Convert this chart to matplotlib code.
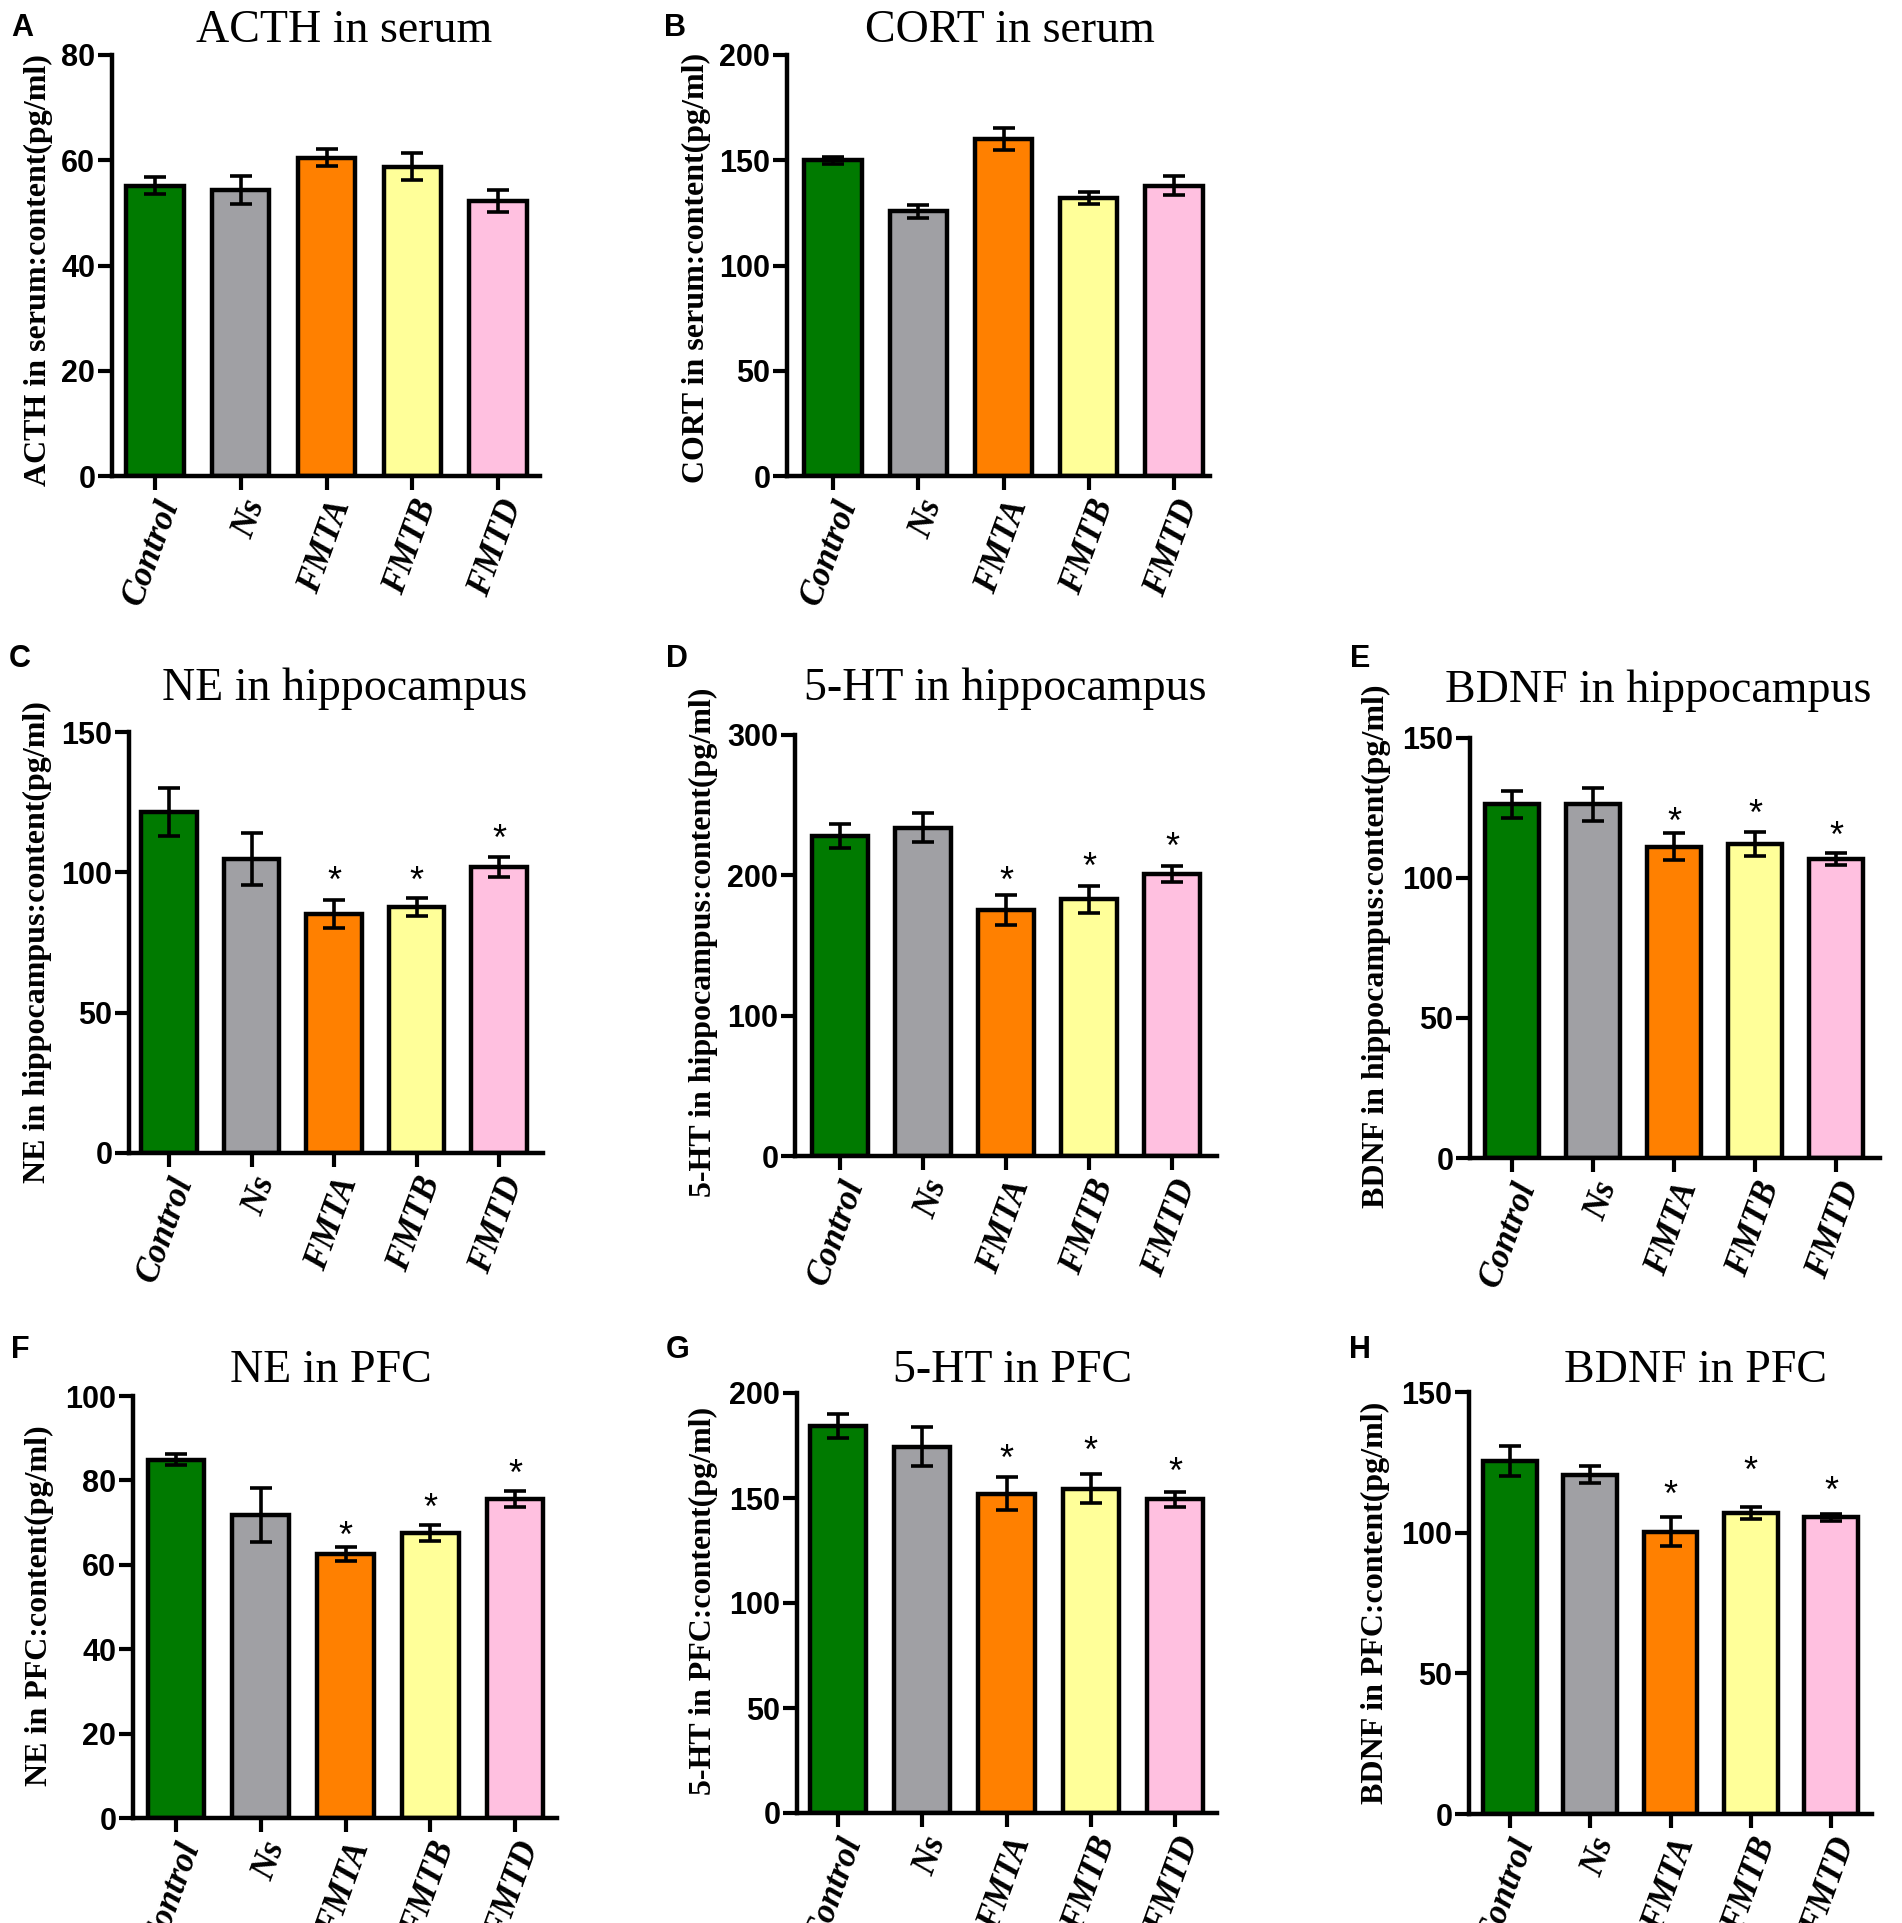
import matplotlib
matplotlib.use('Agg')
import matplotlib.pyplot as plt

# ---------------- data ----------------
groups = ['Control', 'Ns', 'FMTA', 'FMTB', 'FMTD']

acth_serum_mean = [55.2, 54.3, 60.5, 58.8, 52.2]
acth_serum_err = [1.6, 2.7, 1.6, 2.6, 2.1]
acth_yticks = [0, 20, 40, 60, 80]

cort_serum_mean = [149.9, 125.8, 160.2, 132.0, 138.0]
cort_serum_err = [1.6, 3.0, 5.2, 3.0, 4.7]
cort_yticks = [0, 50, 100, 150, 200]

ne_hip_mean = [121.6, 104.8, 85.3, 87.6, 101.8]
ne_hip_err = [8.6, 9.3, 5.0, 3.1, 3.6]
ne_hip_stars = [None, None, 100.3, 100.3, 115.3]
ne_hip_yticks = [0, 50, 100, 150]

ht_hip_mean = [228.0, 234.0, 175.5, 183.0, 201.0]
ht_hip_err = [8.6, 10.3, 10.8, 9.6, 5.8]
ht_hip_stars = [None, None, 203.0, 213.0, 227.0]
ht_hip_yticks = [0, 100, 200, 300]

bdnf_hip_mean = [126.3, 126.3, 111.2, 112.0, 106.7]
bdnf_hip_err = [4.9, 5.9, 4.7, 4.3, 2.1]
bdnf_hip_stars = [None, None, 123.6, 126.3, 118.7]
bdnf_hip_yticks = [0, 50, 100, 150]

ne_pfc_mean = [84.9, 71.8, 62.6, 67.5, 75.5]
ne_pfc_err = [1.3, 6.5, 1.6, 1.9, 1.9]
ne_pfc_stars = [None, None, 69.2, 75.8, 83.8]
ne_pfc_yticks = [0, 20, 40, 60, 80, 100]

ht_pfc_mean = [184.3, 174.5, 152.1, 154.4, 149.3]
ht_pfc_err = [5.6, 9.2, 7.8, 6.9, 3.7]
ht_pfc_stars = [None, None, 173.5, 177.3, 167.3]
ht_pfc_yticks = [0, 50, 100, 150, 200]

bdnf_pfc_mean = [125.6, 120.6, 100.4, 106.9, 105.5]
bdnf_pfc_err = [5.3, 3.1, 5.3, 2.2, 1.2]
bdnf_pfc_stars = [None, None, 117.0, 125.5, 118.5]
bdnf_pfc_yticks = [0, 50, 100, 150]

# ---------------- style ----------------
bar_colors = ['#007A00', '#A0A0A4', '#FF8000', '#FFFF99', '#FFC0E0']
SERIF = 'Liberation Serif'
SANS = 'Liberation Sans'

W, H = 1902, 1923
fig = plt.figure(figsize=(W / 100, H / 100), dpi=100)

panels = [
    dict(letter='A', title='ACTH in serum', ylabel='ACTH in serum:content(pg/ml)',
         mean=acth_serum_mean, err=acth_serum_err, stars=None, yticks=acth_yticks,
         frame=(112, 540, 55, 476), tk=(155, 498), title_xy=(344, 42), letter_xy=(22, 36), ylab_xy=(38, 270)),
    dict(letter='B', title='CORT in serum', ylabel='CORT in serum:content(pg/ml)',
         mean=cort_serum_mean, err=cort_serum_err, stars=None, yticks=cort_yticks,
         frame=(787, 1210, 55, 476), tk=(833, 1174), title_xy=(1010, 42), letter_xy=(675, 36), ylab_xy=(696, 268)),
    dict(letter='C', title='NE in hippocampus', ylabel='NE in hippocampus:content(pg/ml)',
         mean=ne_hip_mean, err=ne_hip_err, stars=ne_hip_stars, yticks=ne_hip_yticks,
         frame=(129, 543, 732, 1153), tk=(169, 499), title_xy=(345, 700), letter_xy=(20, 667), ylab_xy=(37, 942)),
    dict(letter='D', title='5-HT in hippocampus', ylabel='5-HT in hippocampus:content(pg/ml)',
         mean=ht_hip_mean, err=ht_hip_err, stars=ht_hip_stars, yticks=ht_hip_yticks,
         frame=(795, 1217, 735, 1156), tk=(840, 1172), title_xy=(1005, 700), letter_xy=(677, 667), ylab_xy=(703, 942)),
    dict(letter='E', title='BDNF in hippocampus', ylabel='BDNF in hippocampus:content(pg/ml)',
         mean=bdnf_hip_mean, err=bdnf_hip_err, stars=bdnf_hip_stars, yticks=bdnf_hip_yticks,
         frame=(1470, 1880, 738, 1158), tk=(1512, 1836), title_xy=(1658, 702), letter_xy=(1360, 667), ylab_xy=(1376, 946)),
    dict(letter='F', title='NE in PFC', ylabel='NE in PFC:content(pg/ml)',
         mean=ne_pfc_mean, err=ne_pfc_err, stars=ne_pfc_stars, yticks=ne_pfc_yticks,
         frame=(133, 557, 1396, 1818), tk=(176, 515), title_xy=(331, 1382), letter_xy=(20, 1358), ylab_xy=(39, 1606)),
    dict(letter='G', title='5-HT in PFC', ylabel='5-HT in PFC:content(pg/ml)',
         mean=ht_pfc_mean, err=ht_pfc_err, stars=ht_pfc_stars, yticks=ht_pfc_yticks,
         frame=(797, 1217, 1393, 1813), tk=(838, 1175), title_xy=(1013, 1382), letter_xy=(678, 1358), ylab_xy=(703, 1601)),
    dict(letter='H', title='BDNF in PFC', ylabel='BDNF in PFC:content(pg/ml)',
         mean=bdnf_pfc_mean, err=bdnf_pfc_err, stars=bdnf_pfc_stars, yticks=bdnf_pfc_yticks,
         frame=(1469, 1872, 1392, 1814), tk=(1510, 1831), title_xy=(1695, 1382), letter_xy=(1360, 1358), ylab_xy=(1375, 1603)),
]

STAR_FS = 26
for p in panels:
    l, r, t, b = p['frame']
    ax = fig.add_axes([l / W, 1 - b / H, (r - l) / W, (b - t) / H])
    t0, t4 = p['tk']
    sp = (t4 - t0) / 4.0
    x = list(range(len(groups)))
    ax.bar(x, p['mean'], width=0.67, color=bar_colors, edgecolor='black', linewidth=3.2, zorder=2)
    ax.errorbar(x, p['mean'], yerr=p['err'], fmt='none', ecolor='black', elinewidth=2.6,
                capsize=8, capthick=2.6, zorder=3)
    ax.set_xlim((l - t0) / sp, (r - t0) / sp)
    ax.set_ylim(p['yticks'][0], p['yticks'][-1])
    ax.set_yticks(p['yticks'])
    ax.set_xticks(x)
    ax.set_xticklabels(groups, rotation=70, ha='right', va='top', rotation_mode='anchor',
                       fontfamily=SERIF, fontweight='bold', fontstyle='italic', fontsize=25)
    for lab in ax.get_yticklabels():
        lab.set_fontfamily(SANS)
        lab.set_fontweight('bold')
        lab.set_fontsize(22)
    for s in ['top', 'right']:
        ax.spines[s].set_visible(False)
    for s in ['left', 'bottom']:
        ax.spines[s].set_linewidth(3.2)
    ax.tick_params(axis='both', direction='out', length=10, width=3.0, color='black')
    ax.tick_params(axis='y', pad=2)
    ax.tick_params(axis='x', pad=4)
    ax.patch.set_alpha(0)

    ax.set_ylabel(p['ylabel'], fontfamily=SERIF, fontweight='bold', fontsize=23, va='center')
    xc, yc = p['ylab_xy']
    ax.yaxis.set_label_coords((xc - l) / (r - l), (b - yc) / (b - t))

    if p['stars'] is not None:
        for i, s in enumerate(p['stars']):
            if s is not None:
                ax.annotate('*', (i, s), xytext=(0, -0.58 * STAR_FS), textcoords='offset points',
                            ha='center', va='baseline', fontsize=STAR_FS, fontfamily=SANS,
                            annotation_clip=False)

    tx, ty = p['title_xy']
    fig.text(tx / W, 1 - ty / H, p['title'], ha='center', va='baseline',
             fontfamily=SERIF, fontsize=33)
    lx, ly = p['letter_xy']
    fig.text(lx / W, 1 - ly / H, p['letter'], ha='center', va='baseline',
             fontfamily=SANS, fontweight='bold', fontsize=22)

fig.savefig('out.png', dpi=100)
